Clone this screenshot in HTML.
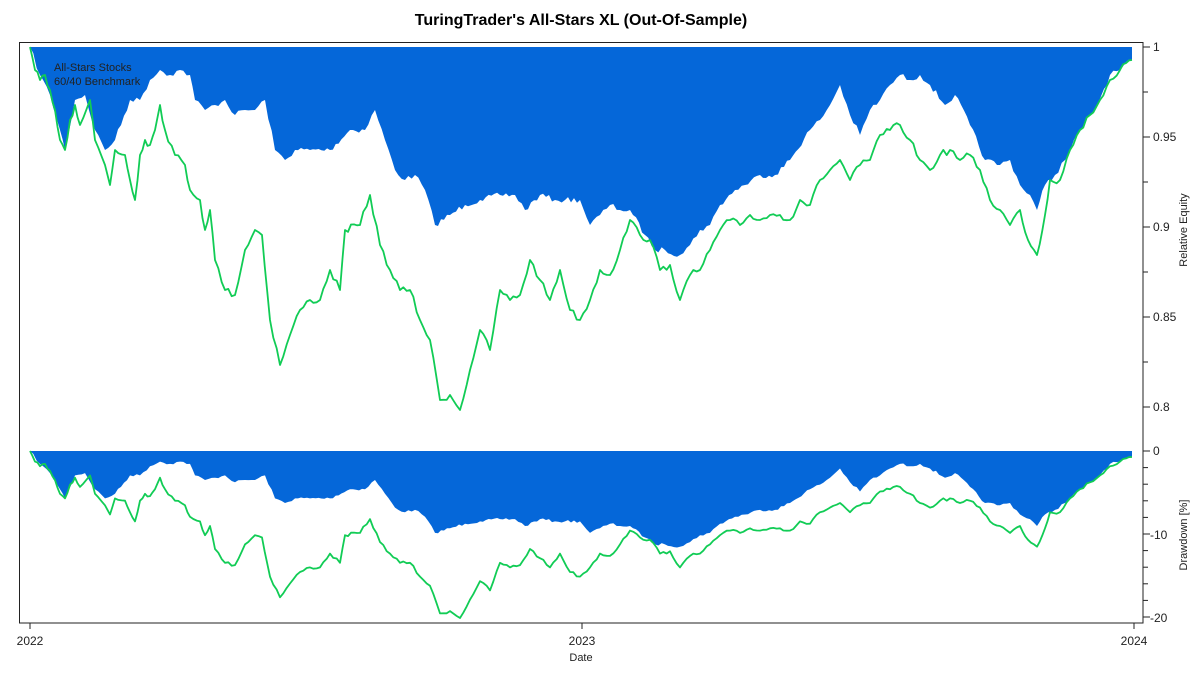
<!DOCTYPE html>
<html><head><meta charset="utf-8"><style>
body{margin:0;background:#fff;width:1200px;height:675px;overflow:hidden}
svg{font-family:"Liberation Sans",sans-serif}
</style></head><body>
<svg id="s" width="1200" height="675" viewBox="0 0 1200 675" xmlns="http://www.w3.org/2000/svg">
<text x="581" y="25" text-anchor="middle" font-size="16" font-weight="bold" fill="#000">TuringTrader's All-Stars XL (Out-Of-Sample)</text>
<g id="plot"></g>
<rect x="19.5" y="42.5" width="1123.5" height="580.5" fill="none" stroke="#222" stroke-width="1"/>
<g font-size="12" fill="#222">
<text x="1153" y="51">1</text>
<text x="1153" y="141">0.95</text>
<text x="1153" y="231">0.9</text>
<text x="1153" y="321">0.85</text>
<text x="1153" y="411">0.8</text>
<text x="1153" y="455">0</text>
<text x="1150" y="539">-10</text>
<text x="1150" y="622">-20</text>
<text x="30" y="645" text-anchor="middle">2022</text>
<text x="582" y="645" text-anchor="middle">2023</text>
<text x="1134" y="645" text-anchor="middle">2024</text>
<text x="581" y="661" text-anchor="middle" font-size="11">Date</text>
<text transform="translate(1187,230) rotate(-90)" text-anchor="middle" font-size="11">Relative Equity</text>
<text transform="translate(1187,535) rotate(-90)" text-anchor="middle" font-size="11">Drawdown [%]</text>
<text x="54" y="71" font-size="11">All-Stars Stocks</text>
<text x="54" y="85" font-size="11">60/40 Benchmark</text>
</g>
<g id="ticks" stroke="#222"></g>
</svg>
<script>
var B=[[30,47],[40,75],[50,95],[60,130],[65,150],[75,100],[85,95],[95,130],[105,150],[115,140],[130,100],[140,100],[150,80],[160,70],[170,75],[180,70],[190,75],[195,100],[205,110],[215,105],[225,100],[235,115],[245,110],[255,110],[265,100],[275,150],[285,160],[295,150],[310,150],[330,150],[350,130],[365,130],[375,110],[385,140],[395,170],[405,180],[415,175],[425,190],[435,225],[450,215],[465,205],[480,200],[500,195],[515,195],[525,210],[540,195],[555,200],[565,200],[580,200],[590,225],[600,215],[610,205],[620,210],[630,210],[645,235],[655,250],[665,250],[680,255],[690,245],[700,230],[710,225],[720,205],[735,190],[745,185],[760,175],[775,175],[790,160],[810,130],[820,120],[830,105],[840,85],[850,115],[860,135],[870,110],[880,100],[890,85],[900,75],[910,80],[920,75],[930,85],[945,105],[955,95],[970,125],[985,160],[1000,165],[1010,160],[1020,185],[1030,195],[1037,210],[1045,185],[1055,175],[1065,160],[1080,130],[1095,110],[1110,75],[1120,70],[1132,60]];
var G=[[30,47],[35,70],[40,80],[45,75],[50,90],[55,110],[60,140],[65,150],[70,120],[75,105],[80,125],[90,100],[95,140],[105,165],[110,185],[115,150],[125,155],[130,180],[135,200],[140,155],[145,140],[150,145],[155,130],[160,105],[165,130],[175,155],[185,165],[190,190],[200,200],[205,230],[210,210],[215,260],[225,290],[235,295],[245,250],[255,230],[262,235],[270,320],[280,365],[290,335],[300,310],[310,300],[320,300],[330,270],[340,290],[345,230],[360,225],[370,195],[380,245],[390,270],[400,290],[410,290],[420,320],[430,340],[440,400],[450,395],[460,410],[470,370],[480,330],[490,350],[500,290],[510,300],[520,295],[530,260],[540,280],[550,300],[560,270],[570,310],[580,320],[590,300],[600,270],[610,275],[620,250],[630,220],[640,235],[650,240],[660,270],[670,265],[680,300],[690,275],[700,270],[710,250],[720,230],[730,220],[740,225],[750,215],[760,220],[770,215],[780,215],[790,220],[800,200],[810,205],[820,180],[830,170],[840,160],[850,180],[860,165],[870,160],[880,135],[890,130],[900,125],[910,140],[920,160],[930,170],[940,155],[950,150],[960,160],[970,155],[980,170],[990,200],[1000,210],[1010,225],[1020,210],[1028,240],[1037,255],[1045,215],[1050,180],[1060,180],[1070,150],[1080,130],[1090,115],[1100,100],[1110,80],[1120,70],[1132,60]];
var seed=7;function rnd(){seed=(seed*16807)%2147483647;return seed/2147483647-0.5}
function dense(a,amp){var o=[];for(var i=0;i<a.length-1;i++){var p=a[i],q=a[i+1];var n=Math.max(1,Math.round((q[0]-p[0])/3));for(var k=0;k<n;k++){var t=k/n;var y=p[1]+(q[1]-p[1])*t;if(k>0)y+=rnd()*amp;o.push([p[0]+(q[0]-p[0])*t,Math.max(47,y)]);}}o.push(a[a.length-1]);return o}
B=dense(B,6);G=dense(G,7);
function pts(a,f){return a.map(function(p){return p[0].toFixed(1)+','+f(p[1]).toFixed(1)}).join(' ')}
var id=function(y){return y}, dd=function(y){return 451+(y-47)*0.46};
var ns='http://www.w3.org/2000/svg',g=document.getElementById('plot');
function add(tag,attrs){var e=document.createElementNS(ns,tag);for(var k in attrs)e.setAttribute(k,attrs[k]);g.appendChild(e)}
add('polygon',{points:'30,47 '+pts(B,id)+' 1132,47',fill:'#0567d9'});
add('polyline',{points:pts(G,id),fill:'none',stroke:'#11cc55','stroke-width':1.8,'stroke-linejoin':'round'});
add('polygon',{points:'30,451 '+pts(B,dd)+' 1132,451',fill:'#0567d9'});
add('polyline',{points:pts(G,dd),fill:'none',stroke:'#11cc55','stroke-width':1.8,'stroke-linejoin':'round'});
var t=document.getElementById('ticks'),h='';
for(var i=0;i<=8;i++){var y=47+i*45;h+='<line x1="1143" x2="'+(i%2?1148:1150)+'" y1="'+y+'" y2="'+y+'"/>';}
for(var i=0;i<=10;i++){var y=451+i*16.6;h+='<line x1="1143" x2="'+(i%5?1148:1150)+'" y1="'+y+'" y2="'+y+'"/>';}
[30,582,1134].forEach(function(x){h+='<line x1="'+x+'" x2="'+x+'" y1="623" y2="629"/>'});
t.innerHTML=h;
</script>
</body></html>
